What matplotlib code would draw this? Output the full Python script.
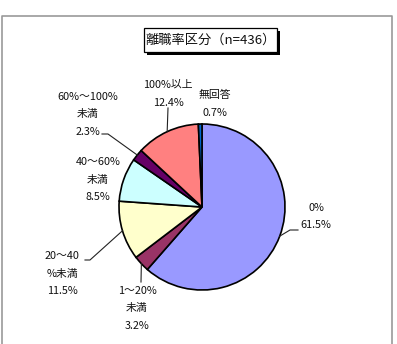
import numpy as np
import matplotlib
matplotlib.use("Agg")
import matplotlib.pyplot as plt
from matplotlib.patches import Rectangle

plt.rcParams['font.family'] = ['Noto Sans CJK JP', 'DejaVu Sans']

W, H = 397, 344

title = "離職率区分（n=436）"
categories = ["0%", "1～20%未満", "20～40%未満", "40～60%未満",
              "60%～100%未満", "100%以上", "無回答"]
shares = [61.5, 3.2, 11.5, 8.5, 2.3, 12.4, 0.7]
colors = ["#9999FF", "#993366", "#FFFFCC", "#CCFFFF", "#660066", "#FF8080", "#0066CC"]
# category text split the way the chart wraps it
name_lines = [["0%"], ["1～20%", "未満"], ["20～40", "%未満"], ["40～60%", "未満"],
              ["60%～100%", "未満"], ["100%以上"], ["無回答"]]

# label placement in pixels (center x, first line y) and leader elbows
label_pos = [(316, 208), (137, 291), (62, 256), (98, 162), (88, 97), (168, 85), (215, 95)]
leaders = [[(290, 230), (298, 230)], [(141, 282)], [(90, 260), (85, 260)], None,
           [(108, 134), (102, 134)], [(168, 108)], None]

cx, cy, r = 202, 207, 83

fig = plt.figure(figsize=(W / 100, H / 100), dpi=100)
ax = fig.add_axes([0, 0, 1, 1])

wedges, _ = ax.pie(shares, colors=colors, startangle=90, counterclock=False,
                   center=(cx, H - cy), radius=r,
                   wedgeprops=dict(edgecolor="black", linewidth=1.2))
ax.set_xlim(0, W)
ax.set_ylim(0, H)
ax.set_aspect("equal")
ax.axis("off")

# labels and leader lines
for i, w in enumerate(wedges):
    mid = np.deg2rad((w.theta1 + w.theta2) / 2)
    ex, ey = cx + r * np.cos(mid), (H - cy) + r * np.sin(mid)
    if leaders[i]:
        xs = [ex] + [p[0] for p in leaders[i]]
        ys = [ey] + [H - p[1] for p in leaders[i]]
        ax.plot(xs, ys, color="#222222", lw=0.8)
    lines = name_lines[i] + [f"{shares[i]:.1f}%"]
    x0, y0 = label_pos[i]
    for k, t in enumerate(lines):
        ax.text(x0, H - (y0 + 17.5 * k), t, ha="center", va="center",
                fontsize=7.8, color="#111111")

# title box with shadow
ax.add_patch(Rectangle((147, H - 55), 133, 24, facecolor="black", edgecolor="none"))
ax.add_patch(Rectangle((144, H - 52), 133, 24, facecolor="white", edgecolor="black", lw=0.9))
ax.text(210.5, H - 40, title, ha="center", va="center", fontsize=9.5, color="#111111")

# outer frame
ax.plot([1.5, 1.5, 392, 392], [0, H - 16, H - 16, 0], color="#999999", lw=1.2)

fig.savefig("out.png", dpi=100)
